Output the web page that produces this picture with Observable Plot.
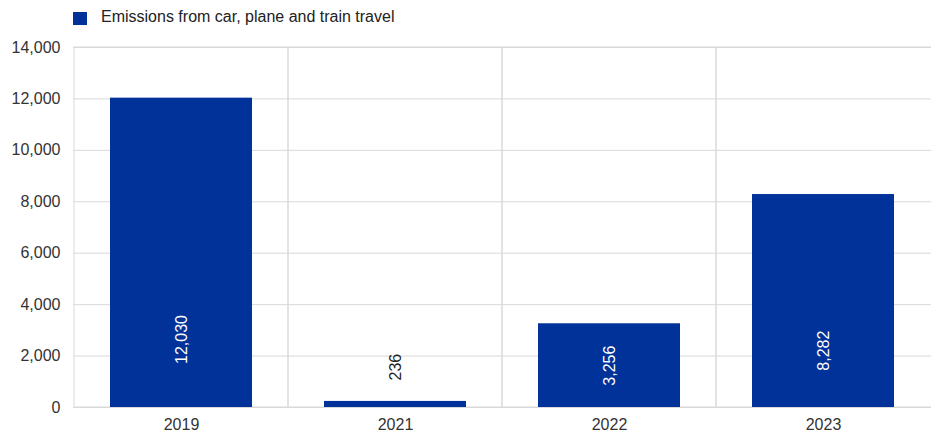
<!DOCTYPE html>
<html>
<head>
<meta charset="utf-8">
<script src="https://cdn.jsdelivr.net/npm/d3@7"></script>
<script src="https://cdn.jsdelivr.net/npm/@observablehq/plot@0.6"></script>
<style>
  html, body { margin: 0; padding: 0; background: #fff; }
  body { width: 931px; height: 434px; overflow: hidden; font-family: "Liberation Sans", Arial, sans-serif; }
  #legend { height: 35px; position: relative; }
  #legend .sw { position: absolute; left: 73px; top: 12px; width: 14px; height: 13px; background: #003299; }
  #legend .lb { position: absolute; left: 101px; top: 8px; font-size: 16px; color: #222; white-space: nowrap; }
</style>
</head>
<body>
<div id="legend"><span class="sw"></span><span class="lb">Emissions from car, plane and train travel</span></div>
<div id="chart"></div>
<script>
const years = ["2019", "2021", "2022", "2023"];
const emissions = [12030, 236, 3256, 8282];
const yTicks = [0, 2000, 4000, 6000, 8000, 10000, 12000, 14000];
const seriesName = "Emissions from car, plane and train travel";

const data = years.map((y, i) => ({year: y, value: emissions[i]}));
const fmt = d3.format(",");
const inside = data.filter(d => d.value >= 1000);
const outside = data.filter(d => d.value < 1000);

const chart = Plot.plot({
  width: 931,
  height: 399,
  marginTop: 12,
  marginBottom: 27,
  marginLeft: 73,
  marginRight: 0,
  style: {fontFamily: "Liberation Sans, Arial, sans-serif", fontSize: "16px", color: "#333", background: "#fff"},
  x: {domain: years, padding: 0, label: null, tickSize: 0, tickPadding: 11},
  y: {domain: [0, 14000], ticks: yTicks, tickFormat: fmt, label: null, tickSize: 0, tickPadding: 13},
  marks: [
    Plot.ruleY(yTicks, {stroke: "#d9d9d9", strokeWidth: 1}),
    Plot.barY(years.slice(0, -1), {x: d => d, y1: 0, y2: 14000, fill: "none", stroke: "#d9d9d9", strokeWidth: 1, inset: 0}),
    Plot.barY(years.slice(-1), {x: d => d, y1: 0, y2: 14000, fill: "none", stroke: "#d9d9d9", strokeWidth: 1, insetLeft: 0, insetTop: 0, insetBottom: 0, insetRight: -3}),
    Plot.barY(data, {x: "year", y: "value", fill: "#003299", insetLeft: 36, insetRight: 36}),
    Plot.text(inside, {x: "year", y: d => 1250 + 0.116 * d.value, text: d => fmt(d.value), rotate: -90, fill: "#fff", fontSize: 16, textAnchor: "middle"}),
    Plot.text(outside, {x: "year", y: "value", text: d => fmt(d.value), rotate: -90, fill: "#222", fontSize: 16, textAnchor: "start", dy: -21}),
    Plot.axisY({ticks: yTicks, tickFormat: fmt, tickSize: 0, tickPadding: 13, label: null, fill: "#333"}),
    Plot.axisX({tickSize: 0, tickPadding: 11, label: null, fill: "#333"})
  ]
});
document.getElementById("chart").appendChild(chart);
</script>
</body>
</html>
